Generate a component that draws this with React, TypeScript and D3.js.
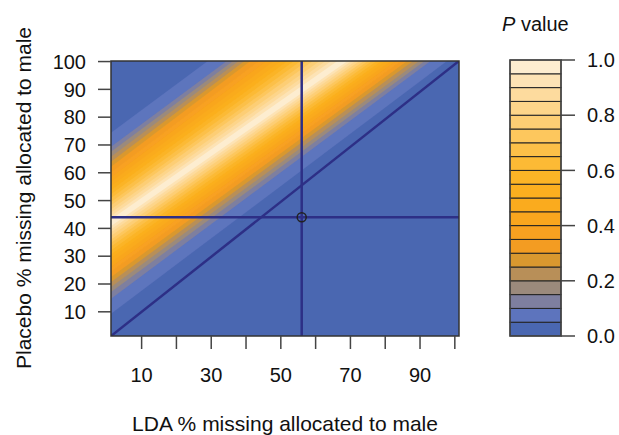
import * as d3 from "d3";

// p value levels (filled contour breaks) and their colours, bottom to top
const levelBreaks = [0, 0.05, 0.1, 0.15, 0.2, 0.25, 0.3, 0.35, 0.4, 0.45, 0.5,
  0.55, 0.6, 0.65, 0.7, 0.75, 0.8, 0.85, 0.9, 0.95, 1.0];
const levelColors = [
  "#4a67b1", "#5d74bd", "#7e7f9f", "#9b8a7c", "#b88f58", "#d9982f", "#f39c22",
  "#f8a120", "#f9a61e", "#faab1e", "#fbaf1f", "#fbb426", "#fcba35", "#fcc048",
  "#fdc75d", "#fdce74", "#fdd58a", "#fddb9e", "#fde3b5", "#fdedd0"
];

// contour lines for each break 0.05 ... 0.95, read as placebo % at LDA = 0 and LDA = 100
const lowerAt0 = [8.2, 13.6, 16.0, 17.8, 19.6, 21.4, 23.4, 25.1, 26.7, 28.3, 29.6, 31.0, 32.4, 33.7, 34.9, 36.3, 37.5, 38.6, 39.8];
const lowerAt100 = [102.3, 106.7, 108.2, 109.6, 111.2, 112.7, 114.2, 115.6, 116.8, 118.1, 119.1, 120.2, 121.3, 122.3, 123.3, 124.3, 125.2, 126.2, 127.1];
const upperAt0 = [73.3, 68.2, 66.4, 64.6, 62.8, 61.0, 59.0, 57.2, 55.6, 54.0, 52.6, 51.2, 49.8, 48.4, 47.2, 45.8, 44.6, 43.4, 42.2];
const upperAt100 = [166, 161, 159.5, 158.5, 157.3, 156.0, 153.2, 150.7, 148.4, 146.2, 144.2, 142.3, 140.3, 138.4, 136.7, 134.7, 133.0, 131.4, 129.7];

const xTicks = [10, 20, 30, 40, 50, 60, 70, 80, 90, 100];
const xLabels = [10, 30, 50, 70, 90];
const yTicks = [10, 20, 30, 40, 50, 60, 70, 80, 90, 100];
const barTicks = [0, 0.2, 0.4, 0.6, 0.8, 1.0];

// observed allocation
const observed = { lda: 56, placebo: 44 };

const xLim = [1.2, 101.2];
const yLim = [1.3, 100.2];

export default function App() {
  const x = d3.scaleLinear().domain(xLim).range([111, 459]);
  const y = d3.scaleLinear().domain(yLim).range([336, 61]);
  const bar = d3.scaleLinear().domain([0, 1]).range([336, 60]);
  const font = "'Liberation Sans', Arial, Helvetica, sans-serif";

  const lineAt = (a0: number, a100: number, v: number) => a0 + (a100 - a0) * v / 100;
  const poly = d3.line<[number, number]>().x(d => x(d[0])).y(d => y(d[1]));
  const bands = lowerAt0.map((lo0, i) => {
    const pts: [number, number][] = [
      [-10, lineAt(lo0, lowerAt100[i], -10)],
      [110, lineAt(lo0, lowerAt100[i], 110)],
      [110, lineAt(upperAt0[i], upperAt100[i], 110)],
      [-10, lineAt(upperAt0[i], upperAt100[i], -10)],
    ];
    return { d: poly(pts) + "Z", fill: levelColors[i + 1] };
  });

  const navy = "#2d2f86";
  return (
    <svg width={619} height={435} style={{ display: "block", position: "absolute", left: 0, top: 0 }} fontFamily={font}>
      <defs>
        <clipPath id="plotclip">
          <rect x={x(xLim[0])} y={y(yLim[1])} width={x(xLim[1]) - x(xLim[0])} height={y(yLim[0]) - y(yLim[1])} />
        </clipPath>
        <filter id="soft"><feGaussianBlur stdDeviation="0.5" /></filter>
      </defs>
      <g clipPath="url(#plotclip)">
        <rect x={0} y={0} width={619} height={435} fill={levelColors[0]} />
        <g filter="url(#soft)">
          {bands.map((b, i) => <path key={i} d={b.d} fill={b.fill} />)}
        </g>
        <line x1={x(xLim[0])} y1={y(yLim[0])} x2={x(xLim[1])} y2={y(yLim[1])} stroke={navy} strokeWidth={2.5} />
        <line x1={x(observed.lda)} y1={y(yLim[0])} x2={x(observed.lda)} y2={y(yLim[1])} stroke={navy} strokeWidth={2.5} />
        <line x1={x(xLim[0])} y1={y(observed.placebo)} x2={x(xLim[1])} y2={y(observed.placebo)} stroke={navy} strokeWidth={2.5} />
      </g>
      <circle cx={x(observed.lda)} cy={y(observed.placebo)} r={4.5} fill="none" stroke="#222" strokeWidth={1.5} />
      <rect x={x(xLim[0])} y={y(yLim[1])} width={x(xLim[1]) - x(xLim[0])} height={y(yLim[0]) - y(yLim[1])} fill="none" stroke="#333" strokeWidth={1.5} />

      {xTicks.map(t => (
        <line key={t} x1={x(t)} x2={x(t)} y1={y(yLim[0])} y2={y(yLim[0]) + 13} stroke="#444" strokeWidth={1.5} />
      ))}
      {xLabels.map(t => (
        <text key={t} x={x(t)} y={382} textAnchor="middle" fontSize={20} fill="#111">{t}</text>
      ))}
      {yTicks.map(t => (
        <g key={t}>
          <line x1={x(xLim[0]) - 13} x2={x(xLim[0])} y1={y(t)} y2={y(t)} stroke="#444" strokeWidth={1.5} />
          <text x={86} y={y(t)} dy="0.36em" textAnchor="end" fontSize={20} fill="#111">{t}</text>
        </g>
      ))}
      <text x={285} y={431} textAnchor="middle" fontSize={21} fill="#111">LDA % missing allocated to male</text>
      <text transform={`translate(31,198) rotate(-90)`} textAnchor="middle" fontSize={21} fill="#111">Placebo % missing allocated to male</text>

      {levelColors.map((c, i) => (
        <rect key={i} x={510} y={bar(levelBreaks[i + 1])} width={51} height={bar(levelBreaks[i]) - bar(levelBreaks[i + 1])}
          fill={c} stroke="#222" strokeWidth={1} />
      ))}
      <rect x={510} y={bar(1)} width={51} height={bar(0) - bar(1)} fill="none" stroke="#444" strokeWidth={1.5} />
      {barTicks.map(t => (
        <g key={t}>
          <line x1={561} x2={575} y1={bar(t)} y2={bar(t)} stroke="#444" strokeWidth={1.5} />
          <text x={587} y={bar(t)} dy="0.36em" fontSize={20} fill="#111">{t.toFixed(1)}</text>
        </g>
      ))}
      <text x={502} y={31} fontSize={20} fill="#111">
        <tspan fontStyle="italic">P</tspan> value
      </text>
    </svg>
  );
}
